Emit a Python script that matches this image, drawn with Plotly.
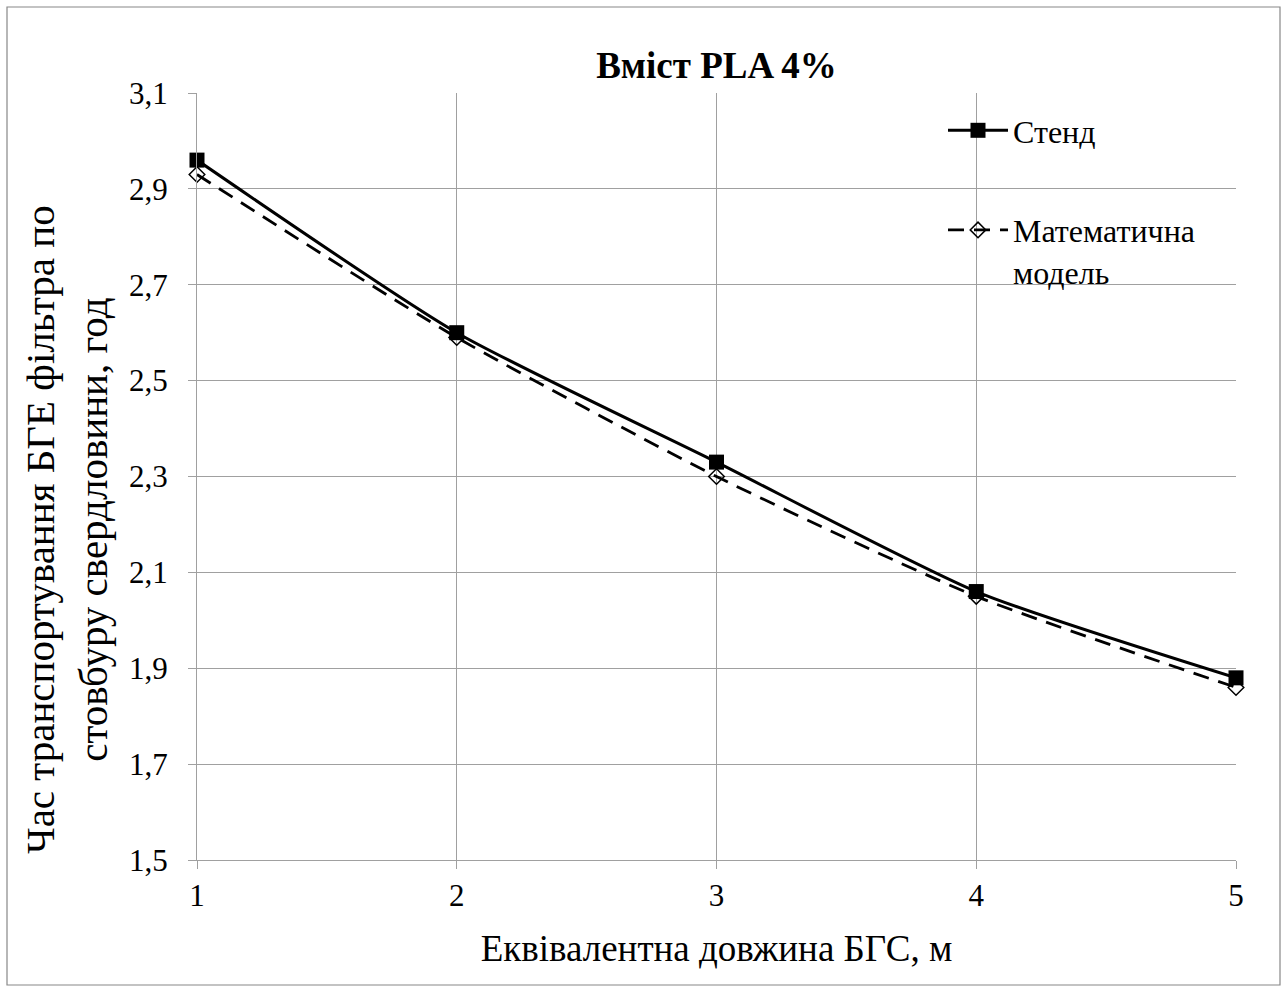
import plotly.graph_objects as go

x_vals = [1, 2, 3, 4, 5]
stand = [2.96, 2.60, 2.33, 2.06, 1.88]
model = [2.93, 2.59, 2.30, 2.05, 1.86]
name_stand = "Стенд"
name_model = "Математична<br>модель"
title_text = "<b>Вміст PLA 4%</b>"
x_title = "Еквівалентна довжина БГС, м"
y_title = "Час транспортування БГЕ фільтра по<br>стовбуру свердловини, год"

W, H = 1288, 988
L, R, T, B = 197, 52, 93, 128
pw, ph = W - L - R, H - T - B
FONT = "Liberation Serif"

fig = go.Figure()
fig.add_trace(go.Scatter(
    x=x_vals, y=stand, name=name_stand, mode="lines+markers", cliponaxis=False,
    line=dict(color="black", width=3, shape="spline", smoothing=0.6),
    marker=dict(symbol="square", size=15, color="black"),
    legendgroup="a",
))
fig.add_trace(go.Scatter(
    x=x_vals, y=model, name=name_model, mode="lines+markers", cliponaxis=False,
    line=dict(color="black", width=2.8, dash="16px,10px", shape="spline", smoothing=0.6),
    marker=dict(symbol="diamond-open", size=12, color="black", line=dict(width=1.5)),
    legendgroup="b",
))

def px(xp):
    return (xp - L) / pw

def py(yp):
    return 1 - (yp - T) / ph

fig.add_shape(type="rect", xref="paper", yref="paper",
              x0=px(7), x1=px(1280), y0=py(985), y1=py(7),
              line=dict(color="#888888", width=1.2), layer="below")

fig.add_annotation(text=y_title, xref="paper", yref="paper",
                   x=px(66), y=py(530), xanchor="center", yanchor="middle",
                   textangle=-90, showarrow=False,
                   font=dict(size=41, family=FONT, color="black"))

fig.update_layout(
    width=W, height=H,
    margin=dict(l=L, r=R, t=T, b=B),
    paper_bgcolor="white", plot_bgcolor="white",
    separators=", ",
    font=dict(family=FONT, color="black", size=31),
    title=dict(text=title_text, x=(L + pw / 2) / W, xanchor="center",
               y=1 - 65 / H, yanchor="middle", font=dict(size=37, family=FONT)),
    showlegend=True,
    legend=dict(x=px(943), y=py(103), xanchor="left", yanchor="top",
                bgcolor="rgba(0,0,0,0)", font=dict(size=32, family=FONT),
                tracegroupgap=55, itemwidth=60, valign="top"),
    xaxis=dict(range=[1, 5], tickvals=x_vals, showgrid=True, gridcolor="#a0a0a0",
               gridwidth=1.3, showline=True, linecolor="#a0a0a0", linewidth=1.3,
               ticks="outside", ticklen=8, tickcolor="#a0a0a0",
               tickfont=dict(size=31), zeroline=False,
               title=dict(text=x_title, font=dict(size=37), standoff=22)),
    yaxis=dict(range=[1.5, 3.1], tick0=1.5, dtick=0.2, tickformat=".1f",
               showgrid=True, gridcolor="#a0a0a0", gridwidth=1.3,
               showline=True, linecolor="#a0a0a0", linewidth=1.3,
               ticks="outside", ticklen=8, tickcolor="#a0a0a0",
               tickfont=dict(size=31), zeroline=False, ticklabelstandoff=14),
)

fig.write_html("out.html", config={"displayModeBar": False},
               post_script="document.body.style.margin='0';")
